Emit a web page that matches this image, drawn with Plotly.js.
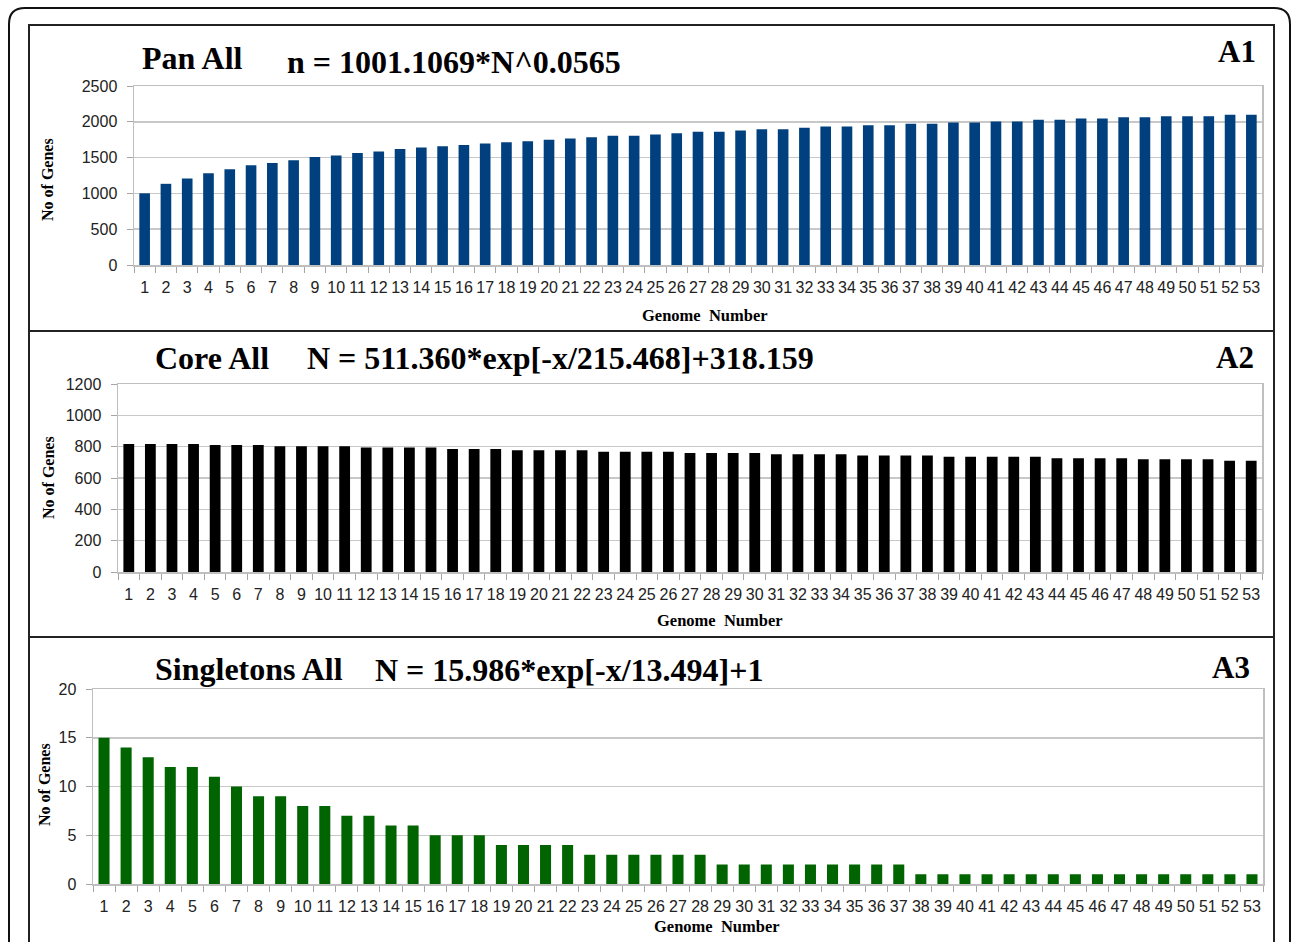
<!DOCTYPE html>
<html><head><meta charset="utf-8">
<script src="https://cdn.plot.ly/plotly-3.0.1.min.js"></script>
<style>html,body{margin:0;padding:0;background:#fff;}#chart{width:1292px;height:942px;}</style>
</head><body><div id="chart"></div>
<script>
// ---- data ----
const genomeNumbers = ["1","2","3","4","5","6","7","8","9","10","11","12","13","14","15","16","17","18","19","20","21","22","23","24","25","26","27","28","29","30","31","32","33","34","35","36","37","38","39","40","41","42","43","44","45","46","47","48","49","50","51","52","53"];
const panGenes = [1001,1134,1208,1282,1338,1394,1426,1463,1509,1528,1565,1584,1621,1640,1659,1677,1696,1715,1729,1748,1766,1785,1804,1804,1823,1841,1860,1860,1879,1897,1897,1916,1935,1935,1953,1953,1972,1972,1991,1991,2005,2005,2028,2028,2047,2047,2065,2065,2079,2079,2079,2098,2098];
const coreGenes = [817,817,817,817,810,810,810,802,802,802,802,794,794,794,794,785,785,785,777,777,777,777,768,768,768,768,760,760,760,760,752,752,752,752,743,743,743,743,735,735,735,735,735,726,726,726,726,720,720,720,720,710,710];
const singletonGenes = [15,14,13,12,12,11,10,9,9,8,8,7,7,6,6,5,5,5,4,4,4,4,3,3,3,3,3,3,2,2,2,2,2,2,2,2,2,1,1,1,1,1,1,1,1,1,1,1,1,1,1,1,1];
const panelTitles = ["Pan All", "Core All", "Singletons All"];
const equations = ["n = 1001.1069*N^0.0565", "N = 511.360*exp[-x/215.468]+318.159", "N = 15.986*exp[-x/13.494]+1"];
const panelTags = ["A1", "A2", "A3"];
const yTitle = "No of Genes";
const xTitle = "Genome  Number";

// ---- layout helpers ----
const W = 1292, H = 942;
const px = v => v / W;
const py = v => 1 - v / H;

const serif = "Liberation Serif, Times New Roman, serif";
const sans = "Liberation Sans Narrow, Arial Narrow, Liberation Sans, Arial, sans-serif";

const panels = [
  {vals: panGenes, color: "#00407f", dom: [134, 1262, 86, 265], range: [0, 2500], dtick: 500,
   titleX: 140, titleY: 58, eqX: 285, eqY: 62, tagX: 1258, tagY: 52, yTitleX: 48, yTitleY: 180, xTitleX: 705, xTitleY: 316},
  {vals: coreGenes, color: "#000000", dom: [118, 1262, 384, 572], range: [0, 1200], dtick: 200,
   titleX: 153, titleY: 358, eqX: 305, eqY: 358, tagX: 1256, tagY: 357, yTitleX: 48, yTitleY: 478, xTitleX: 720, xTitleY: 620},
  {vals: singletonGenes, color: "#006400", dom: [93, 1263, 689, 884], range: [0, 20], dtick: 5,
   titleX: 153, titleY: 669, eqX: 373, eqY: 670, tagX: 1252, tagY: 667, yTitleX: 44, yTitleY: 785, xTitleX: 717, xTitleY: 926}
];

const traces = [];
const layout = {
  width: W, height: H,
  margin: {l: 0, r: 0, t: 0, b: 0},
  paper_bgcolor: "#ffffff", plot_bgcolor: "#ffffff",
  showlegend: false,
  bargap: 0.5,
  annotations: [],
  shapes: []
};

panels.forEach((p, i) => {
  const n = i === 0 ? "" : String(i + 1);
  traces.push({
    type: "bar", x: genomeNumbers, y: p.vals,
    xaxis: "x" + n, yaxis: "y" + n,
    marker: {color: p.color, line: {width: 0}},
    hoverinfo: "x+y"
  });
  layout["xaxis" + n] = {
    domain: [px(p.dom[0]), px(p.dom[1])], anchor: "y" + n,
    type: "category", tickson: "boundaries",
    tickmode: "linear", dtick: 1, tickangle: 0,
    ticks: "outside", ticklen: 6, tickcolor: "#a6a6a6", tickwidth: 1,
    showline: true, linecolor: "#bfbfbf", linewidth: 1.5, mirror: true,
    showgrid: false, zeroline: false,
    tickfont: {family: sans, size: 16, color: "#222"},
    ticklabelstandoff: 7, fixedrange: true
  };
  layout["yaxis" + n] = {
    domain: [py(p.dom[3]), py(p.dom[2])], anchor: "x" + n,
    range: p.range, dtick: p.dtick, tick0: 0,
    ticks: "outside", ticklen: 6, tickcolor: "#a6a6a6", tickwidth: 1,
    showline: true, linecolor: "#bfbfbf", linewidth: 1.5, mirror: true,
    showgrid: true, gridcolor: "#c8c8c8", gridwidth: 1.5, zeroline: false,
    tickfont: {family: sans, size: 16, color: "#222"},
    ticklabelstandoff: 6, fixedrange: true
  };
  const A = layout.annotations;
  A.push({xref: "paper", yref: "paper", x: px(p.titleX), y: py(p.titleY), xanchor: "left", yanchor: "middle",
          text: "<b>" + panelTitles[i] + "</b>", showarrow: false, font: {family: serif, size: 32, color: "#000"}});
  A.push({xref: "paper", yref: "paper", x: px(p.eqX), y: py(p.eqY), xanchor: "left", yanchor: "middle",
          text: "<b>" + equations[i] + "</b>", showarrow: false, font: {family: serif, size: 32, color: "#000"}});
  A.push({xref: "paper", yref: "paper", x: px(p.tagX), y: py(p.tagY), xanchor: "right", yanchor: "middle",
          text: "<b>" + panelTags[i] + "</b>", showarrow: false, font: {family: serif, size: 31, color: "#000"}});
  A.push({xref: "paper", yref: "paper", x: px(p.yTitleX), y: py(p.yTitleY), xanchor: "center", yanchor: "middle",
          text: "<b>" + yTitle + "</b>", textangle: -90, showarrow: false, font: {family: serif, size: 16, color: "#000"}});
  A.push({xref: "paper", yref: "paper", x: px(p.xTitleX), y: py(p.xTitleY), xanchor: "center", yanchor: "middle",
          text: "<b>" + xTitle + "</b>", showarrow: false, font: {family: serif, size: 16.5, color: "#000"}});
});

// frames
const S = layout.shapes;
// outer rounded border (open at the bottom)
const r = 16, ox0 = 9, ox1 = 1290, oy0 = 8, oyB = 960;
S.push({type: "path", xref: "paper", yref: "paper",
  path: `M ${px(ox0)},${py(oyB)} L ${px(ox0)},${py(oy0 + r)} Q ${px(ox0)},${py(oy0)} ${px(ox0 + r)},${py(oy0)} L ${px(ox1 - r)},${py(oy0)} Q ${px(ox1)},${py(oy0)} ${px(ox1)},${py(oy0 + r)} L ${px(ox1)},${py(oyB)}`,
  line: {color: "#111", width: 2}});
// inner frame
S.push({type: "rect", xref: "paper", yref: "paper", x0: px(29), x1: px(1274), y0: py(960), y1: py(25),
  line: {color: "#222", width: 2}, fillcolor: "rgba(0,0,0,0)"});
// separators
[331, 637].forEach(yv => S.push({type: "line", xref: "paper", yref: "paper", x0: px(29), x1: px(1274), y0: py(yv), y1: py(yv),
  line: {color: "#222", width: 2}}));

Plotly.newPlot("chart", traces, layout, {displayModeBar: false, staticPlot: true});
</script>
</body></html>
